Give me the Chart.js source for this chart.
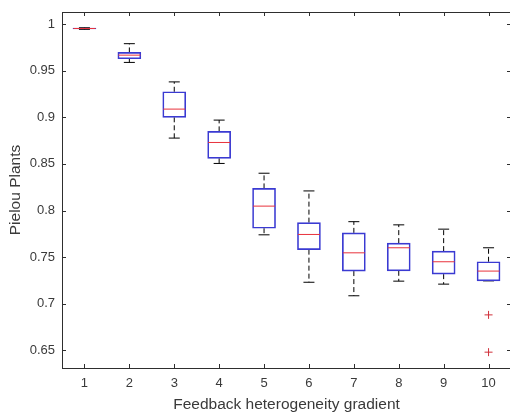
<!DOCTYPE html>
<html>
<head>
<meta charset="utf-8">
<script src="https://cdn.jsdelivr.net/npm/chart.js@4/dist/chart.umd.min.js"></script>
<style>
    html, body { margin: 0; padding: 0; background: #fff; overflow: hidden; }
    #wrap { width: 512px; height: 418px; }
</style>
</head>
<body>
<div id="wrap"><canvas id="boxChart" width="512" height="418"></canvas></div>
<script>
// gradient levels
const levels = [1, 2, 3, 4, 5, 6, 7, 8, 9, 10];
// box statistics
const whiskerLow = [0.9944, 0.9589, 0.8777, 0.8505, 0.7739, 0.7230, 0.7085, 0.7242, 0.7210, 0.7245];
const quart1     = [0.9948, 0.9628, 0.9000, 0.8560, 0.7810, 0.7580, 0.7350, 0.7353, 0.7317, 0.7245];
const medians    = [0.9953, 0.9667, 0.9088, 0.8730, 0.8047, 0.7743, 0.7546, 0.7600, 0.7450, 0.7350];
const quart3     = [0.9957, 0.9696, 0.9274, 0.8849, 0.8237, 0.7870, 0.7760, 0.7650, 0.7564, 0.7450];
const whiskerHigh = [0.9961, 0.9790, 0.9380, 0.8970, 0.8400, 0.8210, 0.7880, 0.7846, 0.7800, 0.7600];
// outliers
const outlierX = [10, 10];
const outlierY = [0.688, 0.648];
// y tick labels
const yTicks = [0.65, 0.7, 0.75, 0.8, 0.85, 0.9, 0.95, 1];

const axisColor = '#2e2e2e';
const textColor = '#3a3a3a';
const font = 'Liberation Sans, Arial, Helvetica, sans-serif';

// whisker segments, broken with nulls
const whiskerData = levels.flatMap((x, i) => [
    { x: x, y: quart3[i] }, { x: x, y: whiskerHigh[i] }, { x: x, y: null },
    { x: x, y: quart1[i] }, { x: x, y: whiskerLow[i] }, { x: x, y: null }
]);
const capData = levels.flatMap((x, i) => [
    { x: x, y: whiskerHigh[i] }, { x: x, y: whiskerLow[i] }
]);

// axes box with inward ticks like matlab
const matlabAxes = {
    id: 'matlabAxes',
    afterDraw(chart) {
        const { ctx, chartArea: a, scales } = chart;
        const len = 4;
        ctx.save();
        ctx.strokeStyle = axisColor;
        ctx.lineWidth = 1;
        ctx.beginPath();
        scales.x.ticks.forEach(t => {
            const px = Math.round(scales.x.getPixelForValue(t.value)) + 0.5;
            ctx.moveTo(px, a.bottom); ctx.lineTo(px, a.bottom - len);
            ctx.moveTo(px, a.top); ctx.lineTo(px, a.top + len);
        });
        scales.y.ticks.forEach(t => {
            const py = Math.round(scales.y.getPixelForValue(t.value)) + 0.5;
            ctx.moveTo(a.left, py); ctx.lineTo(a.left + len, py);
            ctx.moveTo(a.right, py); ctx.lineTo(a.right - len, py);
        });
        ctx.stroke();
        ctx.strokeRect(Math.round(a.left) + 0.5, Math.round(a.top) + 0.5,
            Math.round(a.right - a.left), Math.round(a.bottom - a.top));
        ctx.restore();
    }
};

new Chart(document.getElementById('boxChart'), {
    type: 'bar',
    data: {
        datasets: [
            {
                type: 'line',
                data: whiskerData,
                borderColor: '#000',
                borderWidth: 1,
                borderDash: [5, 3],
                pointRadius: 0,
                spanGaps: false,
                order: 5
            },
            {
                type: 'scatter',
                data: capData,
                pointStyle: 'line',
                radius: 5.5,
                borderColor: '#000',
                borderWidth: 1,
                order: 4
            },
            {
                type: 'bar',
                data: levels.map((x, i) => ({ x: x, y: [quart1[i], quart3[i]] })),
                backgroundColor: 'rgba(255,255,255,0)',
                borderColor: '#3a3ad2',
                borderWidth: 1,
                borderSkipped: false,
                barThickness: 23,
                order: 3
            },
            {
                type: 'scatter',
                data: levels.map((x, i) => ({ x: x, y: medians[i] })),
                pointStyle: 'line',
                radius: 11,
                borderColor: '#e8323c',
                borderWidth: 1,
                order: 2
            },
            {
                type: 'scatter',
                data: outlierX.map((x, i) => ({ x: x, y: outlierY[i] })),
                pointStyle: 'cross',
                radius: 4,
                borderColor: '#d0303a',
                borderWidth: 1,
                order: 1
            }
        ]
    },
    options: {
        responsive: false,
        animation: false,
        layout: { autoPadding: false, padding: { top: 12, right: 1, left: 0, bottom: 0 } },
        plugins: {
            legend: { display: false },
            tooltip: { enabled: false }
        },
        scales: {
            x: {
                type: 'linear',
                min: 0.5,
                max: 10.5,
                offset: false,
                grid: { display: false, drawTicks: false },
                border: { display: false },
                afterBuildTicks: s => { s.ticks = levels.map(v => ({ value: v })); },
                afterFit: s => { s.height = 50; s.paddingLeft = 0; s.paddingRight = 0; },
                ticks: {
                    color: textColor,
                    padding: 8,
                    font: { family: font, size: 13 },
                    maxRotation: 0,
                    callback: v => String(v)
                },
                title: {
                    display: true,
                    text: 'Feedback heterogeneity gradient',
                    color: textColor,
                    font: { family: font, size: 15.5 },
                    padding: { top: 0, bottom: 4 }
                }
            },
            y: {
                min: 0.631,
                max: 1.013,
                grid: { display: false, drawTicks: false },
                border: { display: false },
                afterBuildTicks: s => { s.ticks = yTicks.map(v => ({ value: v })); },
                afterFit: s => { s.width = 62; s.paddingTop = 0; s.paddingBottom = 0; },
                ticks: {
                    color: textColor,
                    padding: 7,
                    font: { family: font, size: 13 },
                    callback: v => String(v)
                },
                title: {
                    display: true,
                    text: 'Pielou Plants',
                    color: textColor,
                    font: { family: font, size: 15.5 },
                    padding: { top: 6, bottom: 0 }
                }
            }
        }
    },
    plugins: [matlabAxes]
});
</script>
</body>
</html>
